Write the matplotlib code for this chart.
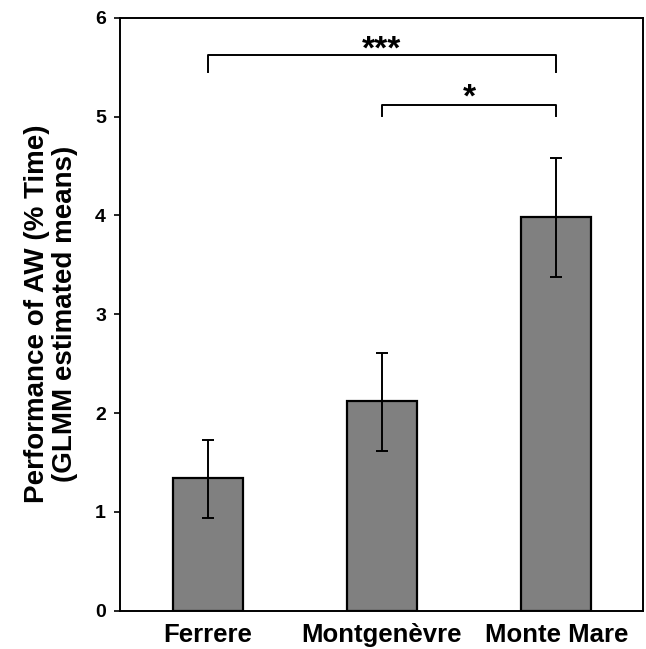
import matplotlib.pyplot as plt
import numpy as np

plt.rcParams['font.family'] = ['Liberation Sans', 'DejaVu Sans']
plt.rcParams['font.weight'] = 'bold'

# GLMM estimated means with error bar limits
sites = ['Ferrere', 'Montgenèvre', 'Monte Mare']
means = [1.34, 2.12, 3.98]
upper = [1.73, 2.61, 4.58]
lower = [0.94, 1.62, 3.38]

# significance brackets: (from, to, label)
sig_pairs = [(0, 2, '***'), (1, 2, '*')]
sig_levels = [5.625, 5.12]
sig_drops = [0.17, 0.11]
sig_text_y = [5.585, 5.10]

fig = plt.figure(figsize=(6.46, 6.49), dpi=100)
ax = fig.add_axes([0.1865, 0.0593, 0.8096, 0.9130])

x = np.arange(len(sites))
err = [np.array(means) - np.array(lower), np.array(upper) - np.array(means)]
ax.bar(x, means, width=0.4, color='#808080', edgecolor='black', linewidth=1.6, zorder=2)
ax.errorbar(x, means, yerr=err, fmt='none', ecolor='black', elinewidth=1.4,
            capsize=4.5, capthick=1.4, zorder=3)

# brackets
for (a, b, lab), lev, drop, ty in zip(sig_pairs, sig_levels, sig_drops, sig_text_y):
    ax.plot([a, a, b, b], [lev - drop, lev, lev, lev - drop], color='black', lw=1.4)
    ax.text((a + b) / 2, ty, lab, ha='center', va='baseline', fontsize=24, fontweight='bold')

ax.set_xlim(-0.5, 2.5)
ax.set_ylim(0, 6)
ax.set_yticks(range(0, 7))
ax.set_xticks(x)
ax.set_xticklabels(sites, fontsize=18.5, fontweight='bold')
ax.tick_params(axis='x', length=0, pad=9)
ax.tick_params(axis='y', direction='out', length=4.5, width=1.2, labelsize=14, pad=6)
for lab in ax.get_yticklabels():
    lab.set_fontweight('bold')
for sp in ax.spines.values():
    sp.set_linewidth(1.4)

ax.set_ylabel('Performance of AW (% Time)\n(GLMM estimated means)', fontsize=20,
              fontweight='bold', linespacing=1.08)
ax.yaxis.set_label_coords(-0.0813, 0.5)

fig.savefig('out.png', dpi=100)
